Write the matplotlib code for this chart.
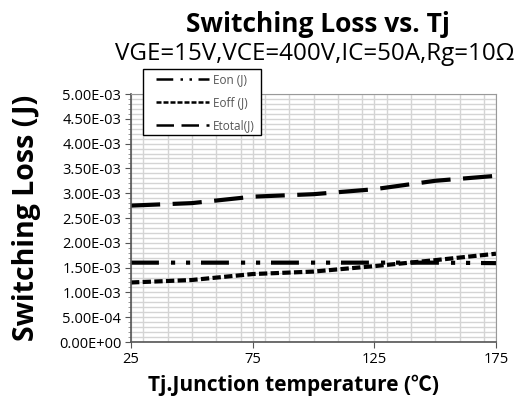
import matplotlib
matplotlib.use("Agg")
import matplotlib.pyplot as plt
from matplotlib.ticker import MultipleLocator, FixedLocator
from matplotlib.patches import Rectangle

temps = [25, 50, 75, 100, 125, 150, 175]
eon = [1.60e-3, 1.60e-3, 1.60e-3, 1.60e-3, 1.60e-3, 1.60e-3, 1.59e-3]
eoff = [1.20e-3, 1.25e-3, 1.37e-3, 1.42e-3, 1.53e-3, 1.65e-3, 1.78e-3]
etotal = [2.75e-3, 2.80e-3, 2.93e-3, 2.98e-3, 3.08e-3, 3.25e-3, 3.35e-3]
xticks = [25, 75, 125, 175]
yticks = [0, 5e-4, 1e-3, 1.5e-3, 2e-3, 2.5e-3, 3e-3, 3.5e-3, 4e-3, 4.5e-3, 5e-3]
ytick_labels = ["0.00E+00", "5.00E-04", "1.00E-03", "1.50E-03", "2.00E-03",
                "2.50E-03", "3.00E-03", "3.50E-03", "4.00E-03", "4.50E-03", "5.00E-03"]

FAM = ['Open Sans', 'Noto Sans CJK SC', 'DejaVu Sans']
plt.rcParams['font.family'] = FAM

fig = plt.figure(figsize=(5.23, 4.08), dpi=100)
W, H = 523, 408
ax = fig.add_axes([131 / W, 1 - 342 / H, (496 - 131) / W, (342 - 94) / H])

ax.plot(temps, eon, color='black', lw=3, dashes=(6.7, 2.9, 1, 2.6, 1, 2.6), label='Eon (J)')
ax.plot(temps, eoff, color='black', lw=3, dashes=(2, 0.8), label='Eoff (J)')
ax.plot(temps, etotal, color='black', lw=3, dashes=(7, 3), label='Etotal(J)')

ax.set_xlim(25, 175)
ax.set_ylim(0, 5e-3)
ax.xaxis.set_major_locator(FixedLocator(xticks))
ax.xaxis.set_minor_locator(MultipleLocator(10))
ax.set_yticks(yticks)
ax.set_yticklabels(ytick_labels)
ax.yaxis.set_minor_locator(MultipleLocator(1e-4))
ax.grid(True, which='both', color='#d4d4d4', lw=1)
ax.set_axisbelow(True)
ax.tick_params(axis='both', which='major', labelsize=10.5, length=4, color='#555555', pad=3)
ax.tick_params(axis='y', which='minor', length=2, color='#888888')
ax.tick_params(axis='x', which='minor', length=0)
for s in ['left', 'bottom']:
    ax.spines[s].set_color('#555555')
    ax.spines[s].set_linewidth(1.2)
for s in ['top', 'right']:
    ax.spines[s].set_color('#999999')

fig.text(318 / W, 1 - 32 / H, 'Switching Loss vs. Tj', ha='center', va='baseline',
         fontsize=19, fontweight='bold')
fig.text(315 / W, 1 - 60 / H, 'VGE=15V,VCE=400V,IC=50A,Rg=10Ω', ha='center', va='baseline',
         fontsize=17.4)
fig.text(27 / W, 1 - 218 / H, 'Switching Loss (J)', ha='center', va='center',
         rotation=90, fontsize=20.5, fontweight='bold')
fig.text(294 / W, 1 - 385 / H, 'Tj.Junction temperature (℃)', ha='center', va='center',
         fontsize=15, fontweight='bold', family=FAM)

fig.patches.append(Rectangle((143 / W, 1 - 135 / H), (261 - 143) / W, (135 - 69) / H,
                             transform=fig.transFigure, facecolor='white', edgecolor='black',
                             lw=1, zorder=5))
leg = fig.legend(loc='upper left', bbox_to_anchor=(156 / W, 1 - 73 / H), borderaxespad=0,
                 borderpad=0, fontsize=8.5, frameon=False,
                 handlelength=4.5, handletextpad=0.3, labelspacing=0.85,
                 labelcolor='#555555')
leg.set_zorder(6)
for l in leg.get_lines():
    l.set_linewidth(1.8)

fig.savefig('out.png', dpi=100)
